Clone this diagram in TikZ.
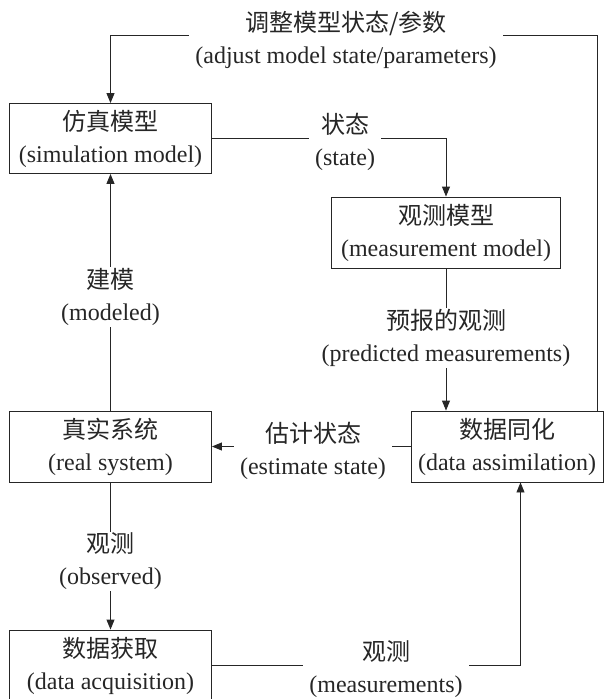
\documentclass[tikz,border=0pt]{standalone}
\usepackage{fontspec}
\setmainfont{Liberation Serif}
\newfontfamily\cjk{Noto Sans CJK SC}
\usetikzlibrary{arrows.meta}
\begin{document}
\begin{tikzpicture}[x=1pt,y=-1pt,
  txt/.style={text=black!85, align=center, font=\fontsize{24}{32}\selectfont},
  box/.style={txt, draw=black!85, line width=0.9pt, minimum width=202pt, minimum height=70pt, inner sep=0pt},
  lbl/.style={txt, fill=white, inner xsep=6pt, inner ysep=1pt},
  conn/.style={draw=black!85, line width=0.9pt},
  arr/.style={conn, -{Triangle[length=10pt,width=8pt]}}]
\useasboundingbox (0,0) rectangle (604,699);
\clip (0,0) rectangle (604,699);

% boxes
\node[box] (sim) at (110.5,138.5) {{\cjk 仿真模型}\\(simulation model)};
\node[box, minimum width=229pt, minimum height=71pt] (meas) at (446,232.5) {{\cjk 观测模型}\\(measurement model)};
\node[box, minimum height=71pt] (real) at (110.5,446.5) {{\cjk 真实系统}\\(real system)};
\node[box, minimum width=192pt, minimum height=71pt] (da) at (507,446.5) {{\cjk 数据同化}\\(data assimilation)};
\node[box, minimum height=71pt] (acq) at (110.5,665.5) {{\cjk 数据获取}\\(data acquisition)};

% helper coordinates
\coordinate (tl) at (110.5,35);
\coordinate (tr) at (597,35);
\coordinate (mc) at (520.5,0);

% connectors
\draw[arr] (da.north -| tr) -- (tr) -- (tl) -- (sim.north);
\draw[arr] (sim.east) -| (meas.north);
\draw[arr] (meas.south) -- (meas.south |- da.north);
\draw[arr] (da.west) -- (real.east);
\draw[arr] (real.north) -- (sim.south);
\draw[arr] (real.south) -- (acq.north);
\draw[arr] (acq.east) -| (da.south -| mc);

% labels
\node[lbl] (ladj) at (346,40) {{\cjk 调整模型状态/参数}\\(adjust model state/parameters)};
\node[lbl] (lst) at (345,142) {{\cjk 状态}\\(state)};
\node[lbl] (lmod) at (110.5,297) {{\cjk 建模}\\(modeled)};
\node[lbl] (lpred) at (446,338) {{\cjk 预报的观测}\\(predicted measurements)};
\node[lbl] (lest) at (313,451) {{\cjk 估计状态}\\(estimate state)};
\node[lbl] (lobs) at (110.5,561) {{\cjk 观测}\\(observed)};
\node[lbl] (lmeas) at (386,669) {{\cjk 观测}\\(measurements)};
\end{tikzpicture}
\end{document}
